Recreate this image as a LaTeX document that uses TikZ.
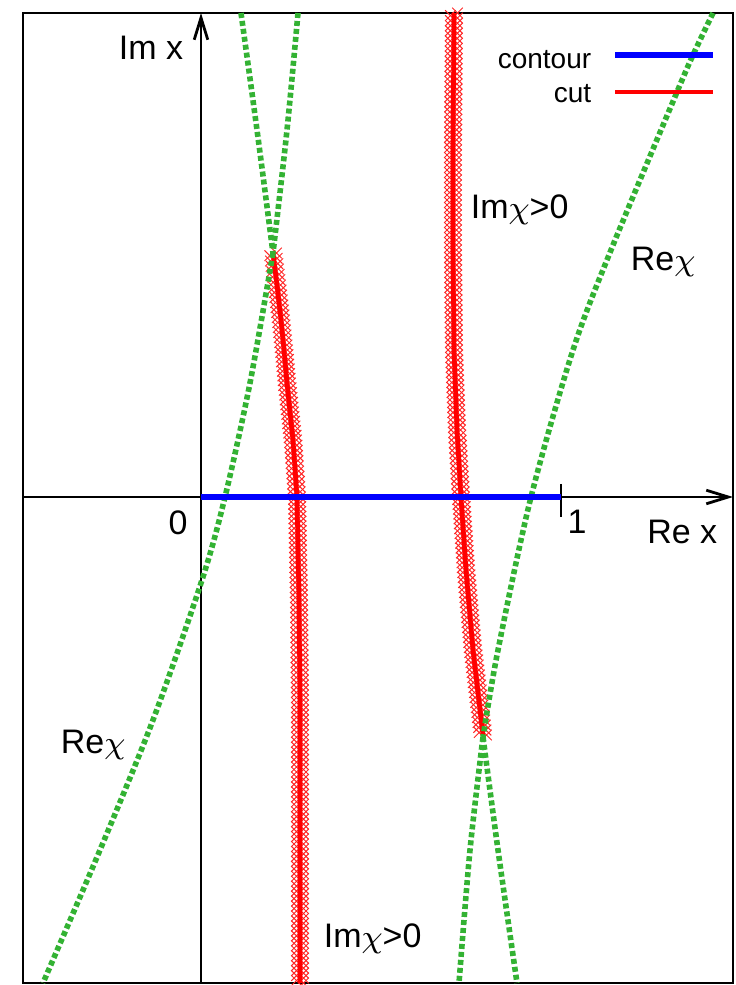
\documentclass[tikz,border=0pt]{standalone}
\usepackage{fontspec}
\setmainfont{Liberation Sans}
\usepackage{tikz}
\usetikzlibrary{arrows.meta,calc,shapes.misc}

\definecolor{rechigreen}{RGB}{51,178,51}

\begin{document}
\begin{tikzpicture}[x=0.25pt,y=-0.25pt,
  axis/.style={line width=0.7pt,-{Straight Barb[length=5.5pt,width=3.4pt]}},
  lbl/.style={inner sep=0pt,font=\fontsize{8.5}{10}\selectfont},
  keylbl/.style={inner sep=0pt,font=\fontsize{7}{8.5}\selectfont},
  contourline/.style={draw=blue,line width=1.4pt},
  cutline/.style={draw=red,line width=1.15pt,line join=round},
  cutx/.style={cross out,draw=red!85,line width=0.25pt,minimum size=2.4pt,inner sep=0pt},
  rechi/.style={draw=rechigreen,line width=1.4pt,dash pattern=on 1.25pt off 0.75pt}]
  \useasboundingbox (0,0) rectangle (736,985);
  % Frame
  \draw[line width=0.5pt] (23,13) rectangle (733,983);
  % Axes
  \coordinate (xl) at (23,497);
  \coordinate (xr) at (733,497);
  \coordinate (yb) at (201,983);
  \coordinate (yt) at (201,13);
  \coordinate (o) at (201,497);
  \coordinate (one) at (561,497);
  \draw[axis] (xl) -- (xr);
  \draw[axis] (yb) -- (yt);
  \draw[line width=0.7pt] ([yshift=3.3pt]one) -- ([yshift=-5pt]one);
  \node[lbl,anchor=base] (zero) at (178,534) {0};
  \node[lbl,anchor=base] (unit) at (577,533) {1};
  \node[lbl,anchor=base east] (rex) at (718,543) {Re x};
  \node[lbl,anchor=base east] (imx) at (184,59) {Im x};
  % Cuts (points of the two branch cuts)
  \foreach \px/\py [count=\k] in {273/253,277/285,281/320,284/350,287/383,290/412,293/440,297/497,298/550,299/600,300/700,300/983}
    \coordinate (lc\k) at (\px,\py);
  \foreach \px/\py [count=\k] in {454/13,453/150,453/250,454/350,457/430,461/497,466/570,473/650,483/735}
    \coordinate (rc\k) at (\px,\py);
  % crosses along the cuts
  \foreach \a/\b/\n in {lc1/lc2/6,lc2/lc3/7,lc3/lc4/6,lc4/lc5/7,lc5/lc6/6,lc6/lc7/6,lc7/lc8/11,lc8/lc9/11,lc9/lc10/10,lc10/lc11/20,lc11/lc12/57,
                        rc1/rc2/27,rc2/rc3/20,rc3/rc4/20,rc4/rc5/16,rc5/rc6/13,rc6/rc7/15,rc7/rc8/16,rc8/rc9/17}{
    \foreach \i in {1,...,\n}{
      \pgfmathsetmacro\ta{(\i-1)/\n}
      \pgfmathsetmacro\tb{(\i-0.5)/\n}
      \node[cutx] at ($(\a)!\ta!(\b)+(3.5,0)$) {};
      \node[cutx] at ($(\a)!\tb!(\b)+(-3.5,0)$) {};
    }
  }
  \node[cutx] (lcend) at ($(lc12)+(3.5,0)$) {};
  \node[cutx] (rcend) at ($(rc9)+(3.5,0)$) {};
  \draw[cutline] (lc1) \foreach \k in {2,...,12}{ -- (lc\k)};
  \draw[cutline] (rc1) \foreach \k in {2,...,9}{ -- (rc\k)};
  % Re chi lines
  \coordinate (bpu) at (273,253);
  \coordinate (bpd) at (483,737);
  \draw[rechi] plot[smooth] coordinates {(241,13) (257,130) (bpu)};
  \draw[rechi] plot[smooth] coordinates {(298,13) (287,130) (bpu)};
  \draw[rechi] plot[smooth] coordinates {(bpu) (250,383) (225,497) (202,580) (153,720) (100,850) (43,983)};
  \draw[rechi] plot[smooth] coordinates {(713,13) (693,55) (677,92) (611,250) (573,350) (531,497) (498,650) (bpd)};
  \draw[rechi] plot[smooth] coordinates {(bpd) (470,850) (459,983)};
  \draw[rechi] plot[smooth] coordinates {(bpd) (498,850) (517,983)};
  % Contour
  \draw[contourline] (o) -- (one);
  % Labels
  \node[lbl,anchor=base west] (imup) at (470,218) {Im$\chi$>0};
  \node[lbl,anchor=base west] (imdown) at (323,947) {Im$\chi$>0};
  \node[lbl,anchor=base west] (reup) at (630,270) {Re$\chi$};
  \node[lbl,anchor=base west] (redown) at (60,753) {Re$\chi$};
  % Key
  \node[keylbl,anchor=base east] (keyc) at (592,68) {contour};
  \node[keylbl,anchor=base east] (keyr) at (592,102) {cut};
  \coordinate (kc1) at (615,55);
  \coordinate (kc2) at (713,55);
  \coordinate (kr1) at (615,92);
  \coordinate (kr2) at (713,92);
  \draw[contourline] (kc1) -- (kc2);
  \draw[draw=red,line width=1.15pt] (kr1) -- (kr2);
\end{tikzpicture}
\end{document}
